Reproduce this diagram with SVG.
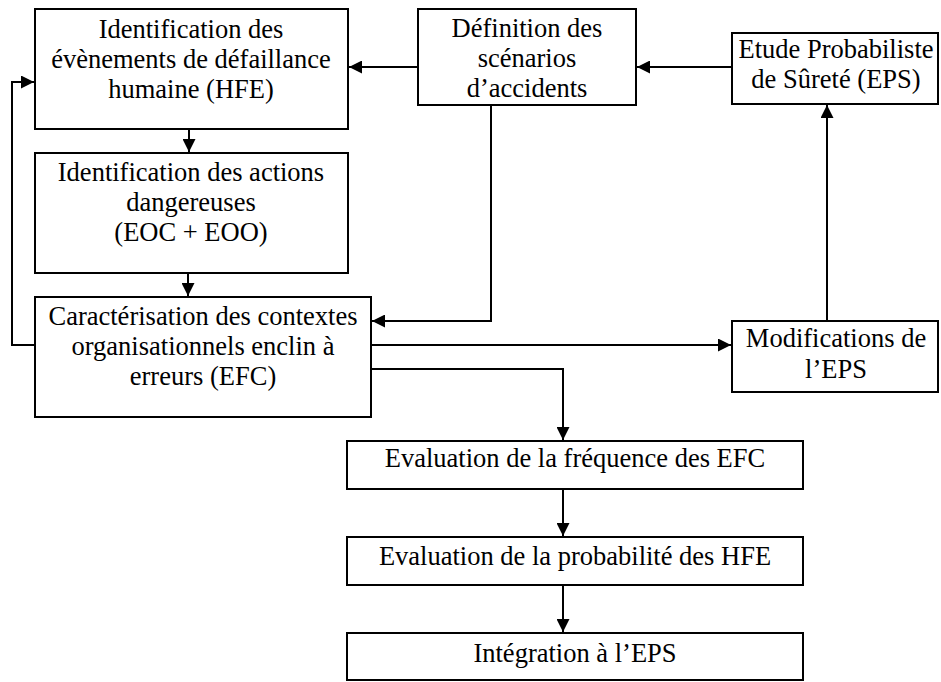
<svg xmlns="http://www.w3.org/2000/svg" width="941" height="682" viewBox="0 0 941 682">
<style>
.box{fill:#fff;stroke:#000;stroke-width:2}
.t{font-family:"Liberation Serif","Times New Roman",serif;font-size:26.5px;fill:#000;text-anchor:middle}
.c{fill:none;stroke:#000;stroke-width:2}
</style>
<defs>
<marker id="ah" markerUnits="userSpaceOnUse" markerWidth="14" markerHeight="13" refX="13" refY="6.5" orient="auto">
<path d="M0,0 L13,6.5 L0,13 z" fill="#000"/>
</marker>
</defs>
<rect width="941" height="682" fill="#fff"/>
<g id="connectors">
<path class="c" d="M418,67 L349,67" marker-end="url(#ah)"/>
<path class="c" d="M732,67 L637,67" marker-end="url(#ah)"/>
<path class="c" d="M189,129 L189,152" marker-end="url(#ah)"/>
<path class="c" d="M188,273 L188,296" marker-end="url(#ah)"/>
<path class="c" d="M491,105 L491,321 L372,321" marker-end="url(#ah)"/>
<path class="c" d="M35,345 L12,345 L12,82 L34,82" marker-end="url(#ah)"/>
<path class="c" d="M371,345 L731,345" marker-end="url(#ah)"/>
<path class="c" d="M827,321 L827,105" marker-end="url(#ah)"/>
<path class="c" d="M371,369 L563,369 L563,440" marker-end="url(#ah)"/>
<path class="c" d="M563,489 L563,536" marker-end="url(#ah)"/>
<path class="c" d="M563,585 L563,632" marker-end="url(#ah)"/>
</g>
<g id="hfe">
<rect class="box" x="35" y="9" width="313" height="120"/>
<text class="t" x="191" y="38">Identification des</text>
<text class="t" x="191" y="68">évènements de défaillance</text>
<text class="t" x="191" y="98">humaine (HFE)</text>
</g>
<g id="actions">
<rect class="box" x="35" y="153" width="313" height="120"/>
<text class="t" x="191" y="181">Identification des actions</text>
<text class="t" x="191" y="211">dangereuses</text>
<text class="t" x="191" y="241">(EOC + EOO)</text>
</g>
<g id="efc">
<rect class="box" x="35" y="297" width="336" height="120"/>
<text class="t" x="203" y="325">Caractérisation des contextes</text>
<text class="t" x="203" y="355">organisationnels enclin à</text>
<text class="t" x="203" y="385">erreurs (EFC)</text>
</g>
<g id="scenarios">
<rect class="box" x="418" y="9" width="218" height="96"/>
<text class="t" x="527" y="37">Définition des</text>
<text class="t" x="527" y="67">scénarios</text>
<text class="t" x="527" y="97">d’accidents</text>
</g>
<g id="eps">
<rect class="box" x="732" y="33" width="206" height="71"/>
<text class="t" x="836" y="58">Etude Probabiliste</text>
<text class="t" x="836" y="88">de Sûreté (EPS)</text>
</g>
<g id="modifs">
<rect class="box" x="732" y="321" width="206" height="71"/>
<text class="t" x="836" y="347">Modifications de</text>
<text class="t" x="836" y="378">l’EPS</text>
</g>
<g id="freq">
<rect class="box" x="347" y="441" width="456" height="48"/>
<text class="t" x="575" y="467">Evaluation de la fréquence des EFC</text>
</g>
<g id="proba">
<rect class="box" x="347" y="537" width="456" height="48"/>
<text class="t" x="575" y="565">Evaluation de la probabilité des HFE</text>
</g>
<g id="integration">
<rect class="box" x="347" y="633" width="456" height="47"/>
<text class="t" x="575" y="662">Intégration à l’EPS</text>
</g>
</svg>
